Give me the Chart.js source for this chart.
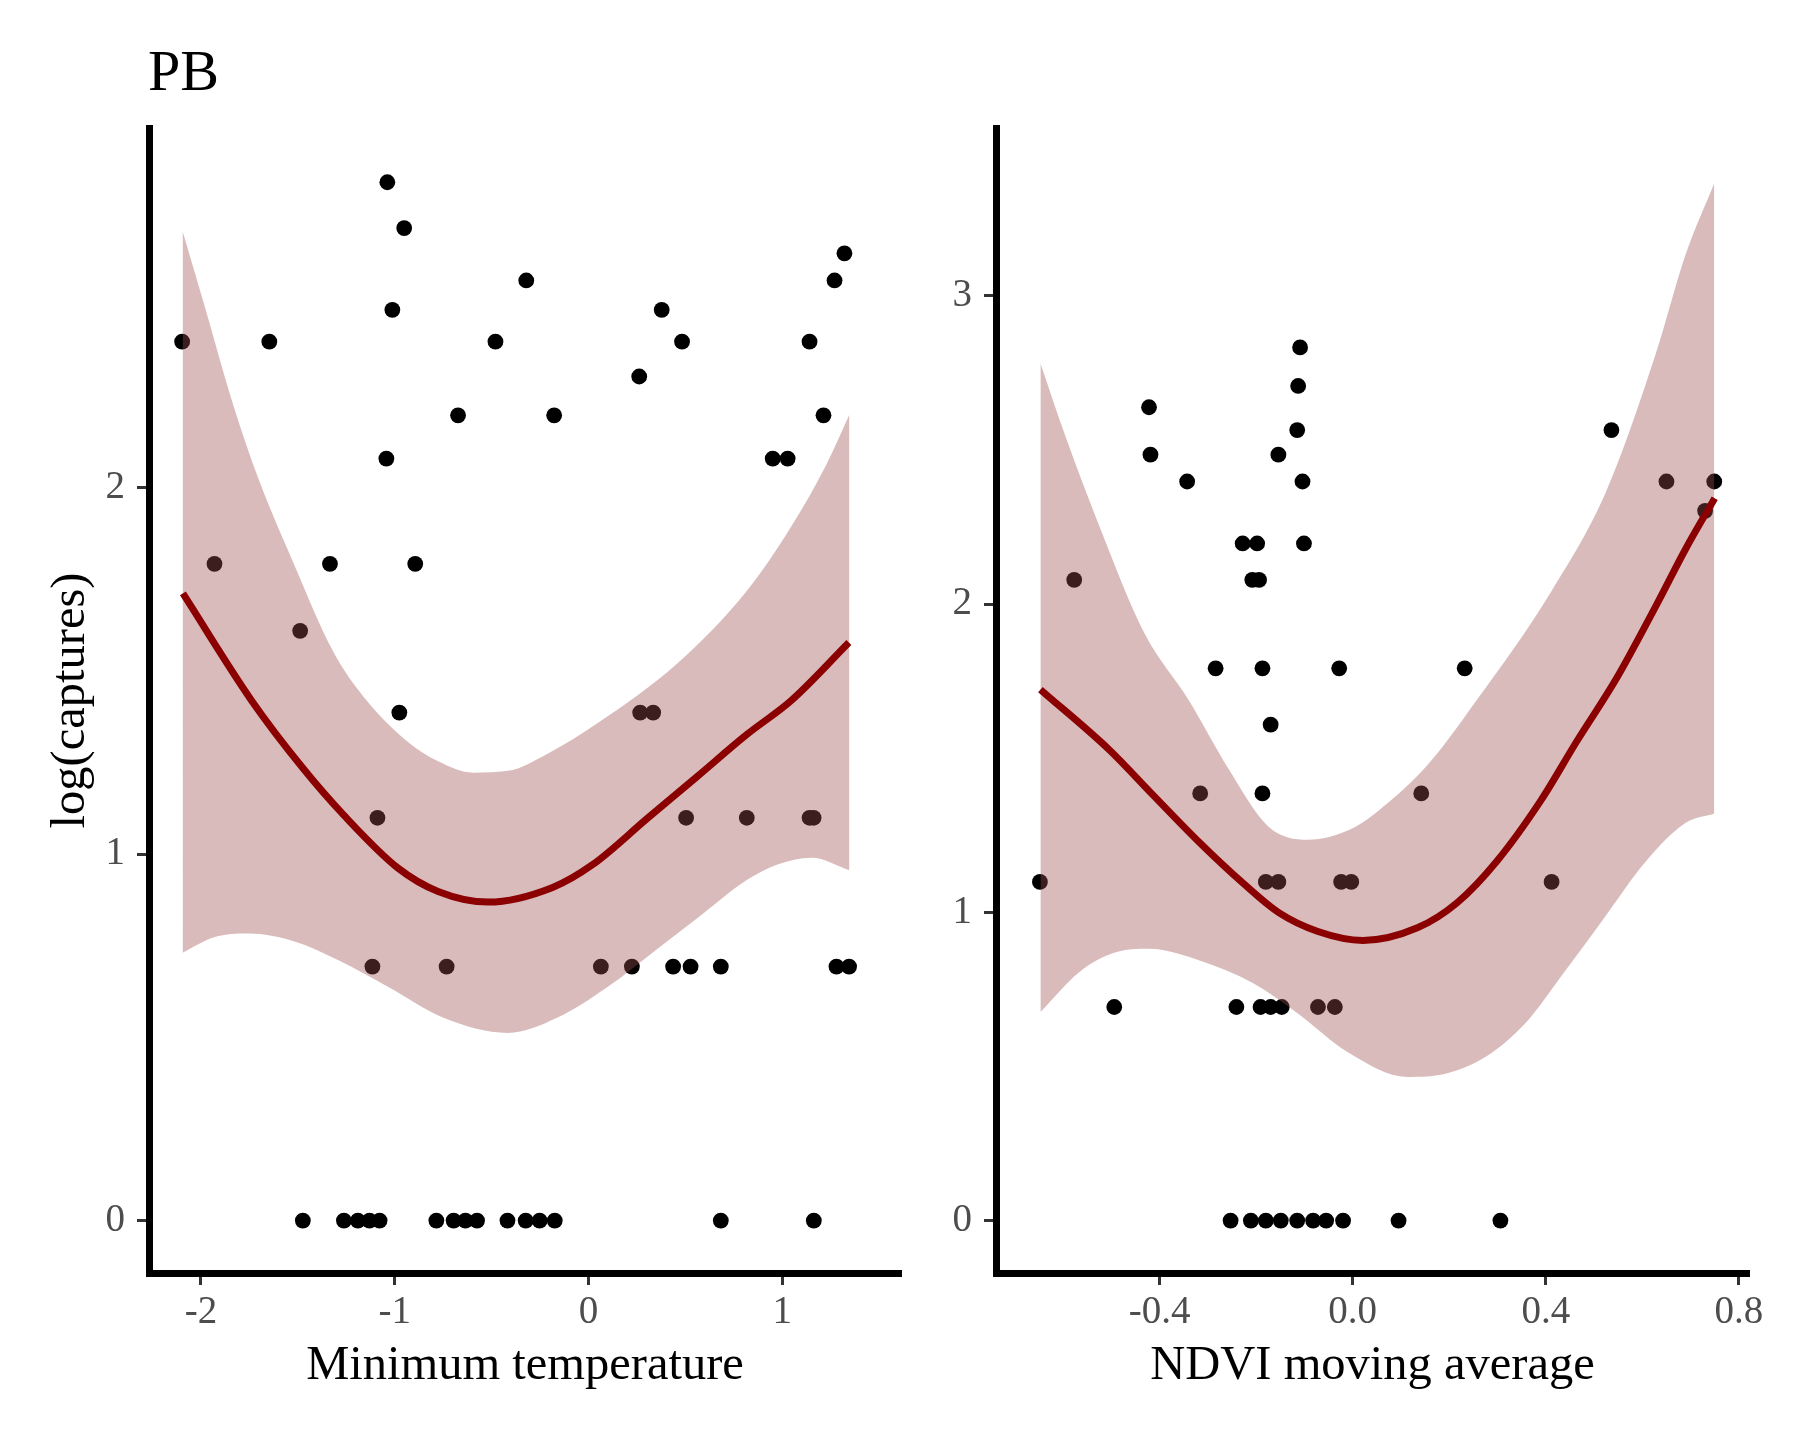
<!DOCTYPE html>
<html>
<head>
<meta charset="utf-8">
<title>PB</title>
<script src="https://cdn.jsdelivr.net/npm/chart.js@4.4.1/dist/chart.umd.min.js"></script>
<style>
    html, body { margin: 0; padding: 0; background: #fff; }
    #wrap { position: relative; width: 1800px; height: 1440px; }
    #leftChart { position: absolute; left: 0; top: 0; }
    #rightChart { position: absolute; left: 940px; top: 0; }
    #plotTitle {
        position: absolute; left: 148px; top: 42px;
        font-family: "Liberation Serif", "Times New Roman", serif;
        font-size: 58px; line-height: 58px; color: #000;
    }
</style>
</head>
<body>
<div id="wrap">
    <canvas id="leftChart" width="940" height="1440"></canvas>
    <canvas id="rightChart" width="860" height="1440"></canvas>
    <div id="plotTitle">PB</div>
</div>
<script>
// --- DATA: Minimum temperature panel ---
const TEMP_X = [
    -1.038, -0.951, 1.321, -0.321, 1.270, -1.012, 0.378,
    -2.097, -1.647, -0.480, 0.483, 1.141, 0.262,
    -0.673, -0.177, 1.213, -1.043, 0.951, 1.028,
    -1.930, -1.334, -0.894, -1.488, -0.976, 0.267, 0.334,
    -1.089, 0.504, 0.817, 1.141, 1.162,
    -1.115, -0.732, 0.064, 0.224, 0.437, 0.527, 0.683, 1.280, 1.345,
    -1.474, -1.262, -1.190, -1.130, -1.078, -0.785, -0.696, -0.635, -0.575,
    -0.418, -0.324, -0.252, -0.174, 0.683, 1.163
];
const TEMP_Y = [
    2.833, 2.708, 2.639, 2.565, 2.565, 2.485, 2.485,
    2.398, 2.398, 2.398, 2.398, 2.398, 2.303,
    2.197, 2.197, 2.197, 2.079, 2.079, 2.079,
    1.792, 1.792, 1.792, 1.609, 1.386, 1.386, 1.386,
    1.099, 1.099, 1.099, 1.099, 1.099,
    0.693, 0.693, 0.693, 0.693, 0.693, 0.693, 0.693, 0.693, 0.693,
    0, 0, 0, 0, 0, 0, 0, 0, 0,
    0, 0, 0, 0, 0, 0
];
const TEMP_FIT_X = [-2.093, -1.740, -1.470, -1.264, -0.981, -0.776, -0.519, -0.185, 0.021, 0.303, 0.560, 0.817, 1.049, 1.344];
const TEMP_FIT_Y = [1.711, 1.420, 1.232, 1.107, 0.961, 0.898, 0.869, 0.909, 0.971, 1.097, 1.211, 1.326, 1.420, 1.577];
const TEMP_HI_X = [-2.095, -1.984, -1.830, -1.701, -1.521, -1.316, -1.162, -0.930, -0.776, -0.596, -0.416, -0.211, 0.046, 0.458, 0.817, 1.049, 1.228, 1.347];
const TEMP_HI_Y = [2.700, 2.501, 2.220, 2.021, 1.792, 1.551, 1.430, 1.305, 1.253, 1.222, 1.227, 1.274, 1.357, 1.520, 1.718, 1.896, 2.063, 2.199];
const TEMP_LO_X = [-2.095, -1.932, -1.753, -1.521, -1.290, -1.033, -0.751, -0.416, -0.159, 0.098, 0.355, 0.586, 0.817, 0.972, 1.151, 1.347];
const TEMP_LO_Y = [0.731, 0.773, 0.783, 0.762, 0.710, 0.637, 0.554, 0.512, 0.554, 0.637, 0.741, 0.835, 0.929, 0.971, 0.990, 0.956];
const TEMP_TICKS_X = [-2, -1, 0, 1];
const TEMP_TICKS_Y = [0, 1, 2];

// --- DATA: NDVI moving average panel ---
const NDVI_X = [
    -0.109, -0.113, -0.422, -0.115, 0.536, -0.419, -0.154,
    -0.343, -0.104, 0.650, 0.749, 0.730,
    -0.228, -0.198, -0.101, -0.577, -0.208, -0.194,
    -0.284, -0.187, -0.028, 0.232, -0.170,
    -0.316, -0.187, 0.142,
    -0.648, -0.180, -0.154, -0.024, -0.003, 0.412,
    -0.494, -0.241, -0.191, -0.170, -0.147, -0.072, -0.037,
    -0.253, -0.211, -0.180, -0.149, -0.115, -0.082, -0.055, -0.020, 0.095, 0.306
];
const NDVI_Y = [
    2.833, 2.708, 2.639, 2.565, 2.565, 2.485, 2.485,
    2.398, 2.398, 2.398, 2.398, 2.303,
    2.197, 2.197, 2.197, 2.079, 2.079, 2.079,
    1.792, 1.792, 1.792, 1.792, 1.609,
    1.386, 1.386, 1.386,
    1.099, 1.099, 1.099, 1.099, 1.099, 1.099,
    0.693, 0.693, 0.693, 0.693, 0.693, 0.693, 0.693,
    0, 0, 0, 0, 0, 0, 0, 0, 0, 0
];
const NDVI_FIT_X = [-0.647, -0.504, -0.412, -0.319, -0.226, -0.154, -0.072, 0.021, 0.134, 0.216, 0.299, 0.391, 0.463, 0.546, 0.628, 0.690, 0.750];
const NDVI_FIT_Y = [1.723, 1.527, 1.378, 1.229, 1.093, 1.000, 0.938, 0.909, 0.950, 1.031, 1.167, 1.366, 1.552, 1.758, 1.994, 2.180, 2.344];
const NDVI_HI_X = [-0.647, -0.597, -0.525, -0.432, -0.340, -0.257, -0.175, -0.093, 0.000, 0.072, 0.155, 0.257, 0.412, 0.525, 0.628, 0.690, 0.749];
const NDVI_HI_Y = [2.782, 2.553, 2.254, 1.907, 1.689, 1.465, 1.279, 1.236, 1.273, 1.354, 1.478, 1.689, 2.043, 2.366, 2.813, 3.136, 3.366];
const NDVI_LO_X = [-0.647, -0.566, -0.494, -0.422, -0.319, -0.206, -0.113, -0.010, 0.113, 0.196, 0.278, 0.361, 0.433, 0.515, 0.608, 0.690, 0.749];
const NDVI_LO_Y = [0.677, 0.807, 0.869, 0.882, 0.845, 0.770, 0.671, 0.546, 0.466, 0.478, 0.534, 0.646, 0.795, 0.969, 1.167, 1.291, 1.320];
const NDVI_TICKS_X = [-0.4, 0, 0.4, 0.8];
const NDVI_TICKS_Y = [0, 1, 2, 3];

const STYLE = {
    font: "'Liberation Serif', 'Times New Roman', serif",
    line: '#8B0000',
    ribbon: 'rgba(155, 78, 78, 0.385)',
    point: '#000000',
    tickText: '#4D4D4D',
    tickMark: '#333333'
};

const zip = (xs, ys) => xs.map((x, i) => ({ x: x, y: ys[i] }));

function buildDatasets(px, py, fx, fy, hx, hy, lx, ly) {
    return [
        { // fitted curve on top
            data: zip(fx, fy), showLine: true, order: 0,
            borderColor: STYLE.line, borderWidth: 7, pointRadius: 0,
            cubicInterpolationMode: 'monotone', fill: false
        },
        { // ribbon upper edge, filled down to the next dataset
            data: zip(hx, hy), showLine: true, order: 1,
            borderColor: 'rgba(0,0,0,0)', borderWidth: 0, pointRadius: 0,
            cubicInterpolationMode: 'monotone',
            fill: '+1', backgroundColor: STYLE.ribbon
        },
        { // ribbon lower edge
            data: zip(lx, ly), showLine: true, order: 1,
            borderColor: 'rgba(0,0,0,0)', borderWidth: 0, pointRadius: 0,
            cubicInterpolationMode: 'monotone', fill: false
        },
        { // observations
            data: zip(px, py), showLine: false, order: 2,
            pointRadius: 7.9, pointBorderWidth: 0,
            pointBackgroundColor: STYLE.point, backgroundColor: STYLE.point
        }
    ];
}

function axisBase(tickValues, fmt) {
    return {
        type: 'linear',
        afterBuildTicks: s => { s.ticks = tickValues.map(v => ({ value: v })); },
        ticks: {
            callback: fmt, autoSkip: false, maxRotation: 0,
            font: { family: STYLE.font, size: 39 }, color: STYLE.tickText
        },
        grid: {
            drawOnChartArea: false, drawTicks: true, tickLength: 12,
            tickWidth: 3, tickColor: STYLE.tickMark
        },
        border: { display: true, color: '#000', width: 7 }
    };
}

function makeChart(canvasId, cfg) {
    const x = axisBase(cfg.ticksX, cfg.fmtX);
    x.position = 'bottom';
    x.min = cfg.xMin; x.max = cfg.xMax;
    x.ticks.padding = 4;
    x.afterFit = s => { s.height = 167; };
    x.title = {
        display: true, text: cfg.xTitle, color: '#000',
        font: { family: STYLE.font, size: 48.5 }, padding: { top: 0, bottom: 45 }
    };

    const y = axisBase(cfg.ticksY, v => String(v));
    y.position = 'left';
    y.min = cfg.yMin; y.max = cfg.yMax;
    y.ticks.padding = 12;
    y.afterFit = s => { s.width = cfg.yWidth; };
    y.title = {
        display: !!cfg.yTitle, text: cfg.yTitle || '', color: '#000',
        font: { family: STYLE.font, size: 48.5 }, padding: { top: 42, bottom: 0 }
    };

    return new Chart(document.getElementById(canvasId), {
        type: 'scatter',
        data: { datasets: cfg.datasets },
        options: {
            responsive: false,
            animation: false,
            layout: { padding: { top: 128, left: 0, right: cfg.padRight, bottom: 0 } },
            plugins: { legend: { display: false }, tooltip: { enabled: false } },
            scales: { x: x, y: y }
        }
    });
}

makeChart('leftChart', {
    datasets: buildDatasets(TEMP_X, TEMP_Y, TEMP_FIT_X, TEMP_FIT_Y, TEMP_HI_X, TEMP_HI_Y, TEMP_LO_X, TEMP_LO_Y),
    ticksX: TEMP_TICKS_X, ticksY: TEMP_TICKS_Y,
    fmtX: v => String(v),
    xMin: -2.268, xMax: 1.613, yMin: -0.143, yMax: 2.981,
    xTitle: 'Minimum temperature', yTitle: 'log(captures)',
    yWidth: 149, padRight: 39
});

makeChart('rightChart', {
    datasets: buildDatasets(NDVI_X, NDVI_Y, NDVI_FIT_X, NDVI_FIT_Y, NDVI_HI_X, NDVI_HI_Y, NDVI_LO_X, NDVI_LO_Y),
    ticksX: NDVI_TICKS_X, ticksY: NDVI_TICKS_Y,
    fmtX: v => v.toFixed(1),
    xMin: -0.739, xMax: 0.821, yMin: -0.170, yMax: 3.545,
    xTitle: 'NDVI moving average', yTitle: null,
    yWidth: 56, padRight: 51
});
</script>
</body>
</html>
